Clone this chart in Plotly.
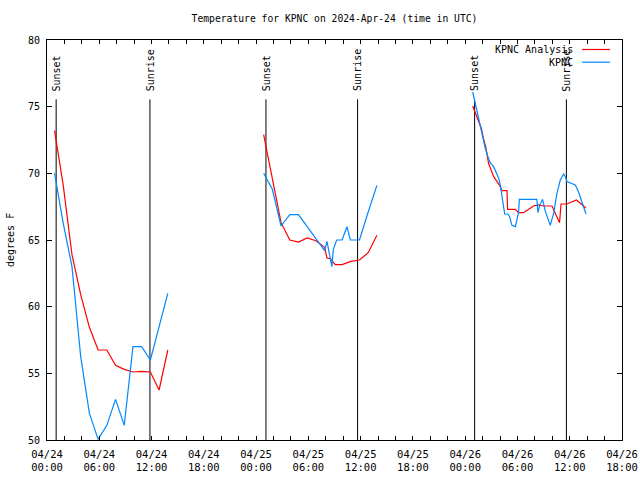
import plotly.graph_objects as go

# ---------------- data ----------------
# KPNC Analysis (red) - three nightly segments
red_t1 = ["2024-04-24 00:52", "2024-04-24 01:52", "2024-04-24 02:52", "2024-04-24 03:52",
          "2024-04-24 04:52", "2024-04-24 05:52", "2024-04-24 06:52", "2024-04-24 07:52",
          "2024-04-24 08:52", "2024-04-24 09:52", "2024-04-24 10:52", "2024-04-24 11:52",
          "2024-04-24 12:52", "2024-04-24 13:52"]
red_v1 = [73.2, 69.1, 63.9, 60.9, 58.45, 56.75, 56.75, 55.6, 55.3, 55.1, 55.15, 55.1, 53.75, 56.75]

red_t2 = ["2024-04-25 00:52", "2024-04-25 01:52", "2024-04-25 02:52", "2024-04-25 03:52",
          "2024-04-25 04:52", "2024-04-25 05:52", "2024-04-25 06:52", "2024-04-25 07:52",
          "2024-04-25 08:08", "2024-04-25 08:31", "2024-04-25 09:05", "2024-04-25 09:52",
          "2024-04-25 10:52", "2024-04-25 11:52", "2024-04-25 12:52", "2024-04-25 13:52"]
red_v2 = [72.9, 69.7, 66.3, 65.0, 64.85, 65.15, 64.95, 64.45, 63.65, 63.6, 63.15, 63.15,
          63.4, 63.5, 64.05, 65.35]

red_t3 = ["2024-04-26 00:52", "2024-04-26 01:28", "2024-04-26 01:52", "2024-04-26 02:06",
          "2024-04-26 02:23", "2024-04-26 02:41", "2024-04-26 03:00", "2024-04-26 03:16",
          "2024-04-26 03:39", "2024-04-26 04:02", "2024-04-26 04:13", "2024-04-26 04:48",
          "2024-04-26 04:52", "2024-04-26 05:45", "2024-04-26 06:08", "2024-04-26 06:42",
          "2024-04-26 07:17", "2024-04-26 07:51", "2024-04-26 08:26", "2024-04-26 09:00",
          "2024-04-26 09:58", "2024-04-26 10:20", "2024-04-26 10:50", "2024-04-26 11:00",
          "2024-04-26 11:41", "2024-04-26 12:46", "2024-04-26 13:12", "2024-04-26 13:52"]
red_v3 = [75.05, 74.1, 73.35, 72.6, 71.9, 70.75, 70.2, 69.75, 69.4, 69.0, 68.7, 68.7,
          67.3, 67.3, 67.05, 67.05, 67.3, 67.55, 67.63, 67.55, 67.55, 67.0, 66.3, 67.7,
          67.7, 68.0, 67.75, 67.4]

# KPNC observations (blue)
blue_t1 = ["2024-04-24 00:52", "2024-04-24 01:52", "2024-04-24 02:52", "2024-04-24 03:52",
           "2024-04-24 04:52", "2024-04-24 05:52", "2024-04-24 06:52", "2024-04-24 07:52",
           "2024-04-24 08:52", "2024-04-24 09:52", "2024-04-24 10:52", "2024-04-24 11:52",
           "2024-04-24 12:52", "2024-04-24 13:52"]
blue_v1 = [70.0, 66.25, 63.0, 56.25, 52.0, 50.05, 51.1, 53.05, 51.1, 57.0, 57.0, 56.0, 58.5, 61.0]

blue_t2 = ["2024-04-25 00:52", "2024-04-25 01:52", "2024-04-25 02:52", "2024-04-25 03:52",
           "2024-04-25 04:52", "2024-04-25 05:52", "2024-04-25 06:52", "2024-04-25 07:52",
           "2024-04-25 08:08", "2024-04-25 08:24", "2024-04-25 08:42", "2024-04-25 08:52",
           "2024-04-25 09:15", "2024-04-25 09:52", "2024-04-25 10:26", "2024-04-25 10:49",
           "2024-04-25 11:52", "2024-04-25 12:52", "2024-04-25 13:52"]
blue_v2 = [70.0, 68.8, 66.05, 66.9, 66.9, 66.0, 65.07, 64.2, 64.9, 64.1, 63.0, 64.3,
           65.0, 65.0, 66.0, 65.0, 65.0, 67.1, 69.1]

blue_t3 = ["2024-04-26 00:52", "2024-04-26 01:10", "2024-04-26 01:32", "2024-04-26 01:52",
           "2024-04-26 02:18", "2024-04-26 02:41", "2024-04-26 02:52", "2024-04-26 03:16",
           "2024-04-26 03:39", "2024-04-26 03:52", "2024-04-26 04:02", "2024-04-26 04:13",
           "2024-04-26 04:32", "2024-04-26 04:55", "2024-04-26 05:06", "2024-04-26 05:22",
           "2024-04-26 05:46", "2024-04-26 06:08", "2024-04-26 06:13", "2024-04-26 08:14",
           "2024-04-26 08:21", "2024-04-26 08:33", "2024-04-26 08:53", "2024-04-26 09:12",
           "2024-04-26 09:46", "2024-04-26 10:09", "2024-04-26 10:32", "2024-04-26 10:55",
           "2024-04-26 11:18", "2024-04-26 11:30", "2024-04-26 11:41", "2024-04-26 12:38",
           "2024-04-26 13:01", "2024-04-26 13:52"]
blue_v3 = [76.1, 75.25, 74.0, 73.1, 71.9, 71.1, 70.8, 70.5, 70.0, 69.6, 69.1, 68.25,
           66.95, 66.95, 66.75, 66.1, 66.0, 67.1, 68.05, 68.05, 67.05, 67.6, 68.05, 67.15,
           66.1, 67.0, 68.5, 69.5, 69.95, 69.75, 69.38, 69.13, 68.6, 66.95]

sun_events = ["Sunset", "Sunrise", "Sunset", "Sunrise", "Sunset", "Sunrise"]
sun_times = ["2024-04-24 01:03", "2024-04-24 11:49", "2024-04-25 01:08",
             "2024-04-25 11:39", "2024-04-26 01:05", "2024-04-26 11:37"]

series_names = ["KPNC Analysis", "KPNC"]
series_colors = ["#ff0000", "#0088ff"]

title_text = "Temperature for KPNC on 2024-Apr-24 (time in UTC)"
y_label = "degrees F"
x_range = ["2024-04-24 00:00", "2024-04-26 18:00"]
y_range = [50, 80]


def join(*segs):
    xs, ys = [], []
    for i, (t, v) in enumerate(segs):
        if i:
            xs.append(None)
            ys.append(None)
        xs += t
        ys += v
    return xs, ys


FONT = "DejaVu Sans Mono"
fig = go.Figure()

rx, ry = join((red_t1, red_v1), (red_t2, red_v2), (red_t3, red_v3))
bx, by = join((blue_t1, blue_v1), (blue_t2, blue_v2), (blue_t3, blue_v3))

# sunrise / sunset lines
for name, t in zip(sun_events, sun_times):
    fig.add_trace(go.Scatter(x=[t, t], y=[y_range[0], 75.55], mode="lines",
                             line=dict(color="black", width=1), hoverinfo="skip"))
    fig.add_annotation(x=t, y=76.0, text=name, textangle=-90, showarrow=False,
                       xanchor="center", yanchor="bottom",
                       font=dict(family=FONT, size=10, color="black"))

fig.add_trace(go.Scatter(x=rx, y=ry, mode="lines", name=series_names[0],
                         line=dict(color=series_colors[0], width=1.2), connectgaps=False))
fig.add_trace(go.Scatter(x=bx, y=by, mode="lines", name=series_names[1],
                         line=dict(color=series_colors[1], width=1.2), connectgaps=False))

# gnuplot-style legend: right-aligned text followed by line sample
L, R, T, B = 47, 622, 40, 440
def px(x):
    return (x - L) / (R - L)
def py(y):
    return (B - y) / (B - T)

for i, (nm, col) in enumerate(zip(series_names, series_colors)):
    yy = 49.5 + 12.7 * i
    fig.add_annotation(xref="paper", yref="paper", x=px(575), y=py(yy), text=nm,
                       showarrow=False, xanchor="right", yanchor="middle",
                       font=dict(family=FONT, size=10, color="black"))
    fig.add_shape(type="line", xref="paper", yref="paper", x0=px(582), x1=px(610),
                  y0=py(yy), y1=py(yy), line=dict(color=col, width=1.2))

fig.add_annotation(xref="paper", yref="paper", x=px(10), y=py(240), text=y_label,
                   textangle=-90, showarrow=False, xanchor="center", yanchor="middle",
                   font=dict(family=FONT, size=10, color="black"))

fig.update_layout(
    width=640, height=480,
    margin=dict(l=L, r=640 - R, t=T, b=480 - B),
    paper_bgcolor="white", plot_bgcolor="white",
    showlegend=False,
    title=dict(text=title_text, x=0.5, xref="paper", y=1 - 19 / 480, yref="container",
               xanchor="center", yanchor="middle",
               font=dict(family=FONT, size=9.7, color="black")),
    font=dict(family=FONT, size=10, color="black"),
)
fig.update_xaxes(range=x_range, type="date", dtick=6 * 3600 * 1000,
                 tick0="2024-04-24 00:00", tickformat="%m/%d<br>%H:%M",
                 ticks="inside", ticklen=4, tickcolor="black",
                 minor=dict(dtick=2 * 3600 * 1000, ticks="inside", ticklen=4,
                            tickcolor="black", showgrid=False),
                 showline=True, linecolor="black", linewidth=1, mirror="ticks",
                 showgrid=False, zeroline=False, automargin=False, ticklabelstandoff=4,
                 tickfont=dict(family=FONT, size=10.5, color="black"))
fig.update_yaxes(range=y_range, dtick=5, ticks="inside", ticklen=5, tickcolor="black",
                 showline=True, linecolor="black", linewidth=1, mirror="ticks",
                 showgrid=False, zeroline=False, ticklabelstandoff=4, automargin=False,
                 tickfont=dict(family=FONT, size=10, color="black"))

post = ("document.body.style.margin='0';document.body.style.overflow='hidden';"
        "Plotly.Plots.resize(document.getElementById('{plot_id}'));")
fig.write_html("out.html", post_script=post, config={"displayModeBar": False})
